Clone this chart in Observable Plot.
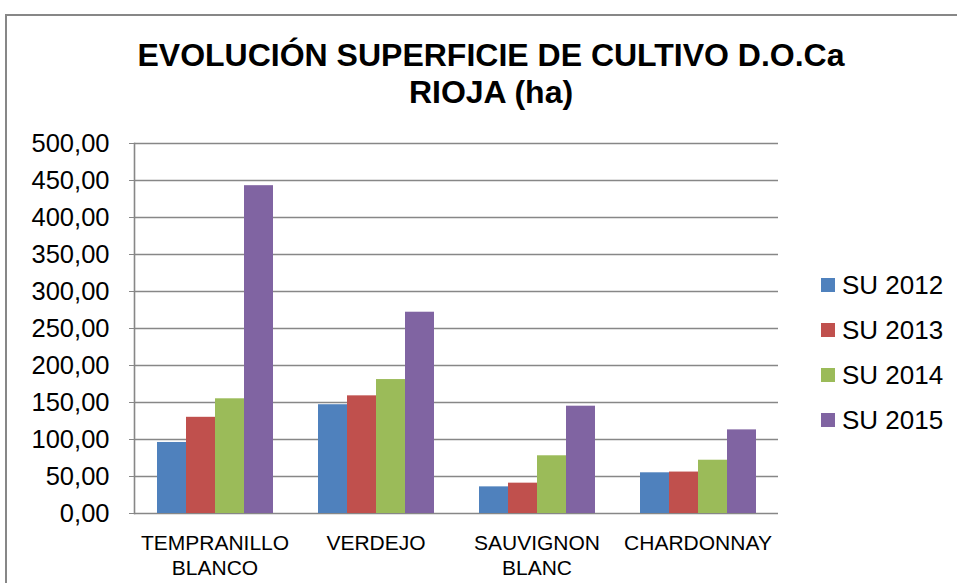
<!DOCTYPE html>
<html>
<head>
<meta charset="utf-8">
<script src="https://cdn.jsdelivr.net/npm/d3@7"></script>
<script src="https://cdn.jsdelivr.net/npm/@observablehq/plot@0.6"></script>
<style>
  body { margin: 0; background: #fff; font-family: "Liberation Sans", Arial, sans-serif; }
  #wrap { position: relative; width: 957px; height: 583px; overflow: hidden; background: #fff; }
  #border { position: absolute; left: 5px; top: 14px; width: 1000px; height: 1000px;
            border-top: 2px solid #878787; border-left: 2px solid #878787; box-sizing: border-box; }
  #chart { position: absolute; left: 0; top: 0; }
  #title { position: absolute; left: 0; top: 37px; width: 982px; text-align: center;
           font-weight: bold; font-size: 32px; line-height: 37px; color: #000; }
  #legend { position: absolute; left: 821px; top: 262px; }
  .row { height: 45px; display: flex; align-items: center; }
  .sw { width: 14px; height: 14px; margin-right: 7px; }
  .lab { font-size: 26px; line-height: 26px; color: #000; white-space: nowrap; }
</style>
</head>
<body>
<div id="wrap">
  <div id="border"></div>
  <div id="chart"></div>
  <div id="title">EVOLUCIÓN SUPERFICIE DE CULTIVO D.O.Ca<br>RIOJA (ha)</div>
  <div id="legend"></div>
</div>
<script>
const categories = ["TEMPRANILLO BLANCO", "VERDEJO", "SAUVIGNON BLANC", "CHARDONNAY"];
const categoryLabels = ["TEMPRANILLO\nBLANCO", "VERDEJO", "SAUVIGNON\nBLANC", "CHARDONNAY"];
const series = ["SU 2012", "SU 2013", "SU 2014", "SU 2015"];
const su2012 = [96, 147, 36, 55];
const su2013 = [130, 159, 41, 56];
const su2014 = [155, 181, 78, 72];
const su2015 = [443, 272, 145, 113];
const colors = ["#4F81BD", "#C0504D", "#9BBB59", "#8064A2"];
const yTicks = [0, 50, 100, 150, 200, 250, 300, 350, 400, 450, 500];

const valuesBySeries = [su2012, su2013, su2014, su2015];
const data = [];
categories.forEach((c, i) => {
  series.forEach((s, j) => data.push({cat: c, series: s, value: valuesBySeries[j][i]}));
});
const labelOf = new Map(categories.map((c, i) => [c, categoryLabels[i]]));
const fmt = d => d.toFixed(2).replace(".", ",");
const gray = "#878787";

const chart = Plot.plot({
  width: 957,
  height: 583,
  marginLeft: 133,
  marginRight: 178,
  marginTop: 143,
  marginBottom: 70,
  style: {fontFamily: '"Liberation Sans", Arial, sans-serif', color: "#000", background: "transparent"},
  fx: {domain: categories, padding: 0, label: null},
  x: {domain: series, paddingInner: 0, paddingOuter: 0.745, axis: null},
  y: {domain: [0, 500], label: null},
  color: {domain: series, range: colors},
  marks: [
    Plot.ruleY(yTicks, {stroke: gray, strokeWidth: 1.6}),
    Plot.barY(data, {fx: "cat", x: "series", y: "value", fill: "series"}),
    Plot.axisY(yTicks, {tickFormat: fmt, tickSize: 5, tickPadding: 20, fontSize: 25.5, stroke: gray, label: null}),
    Plot.axisFx({anchor: "bottom", tickSize: 0, tickPadding: 19, fontSize: 21, lineHeight: 1.19, tickFormat: d => labelOf.get(d), label: null}),
    Plot.frame({anchor: "left", facetAnchor: "left", stroke: gray, strokeWidth: 1.6})
  ]
});
document.getElementById("chart").appendChild(chart);

const legend = d3.select("#legend");
series.forEach((s, i) => {
  const row = legend.append("div").attr("class", "row");
  row.append("div").attr("class", "sw").style("background", colors[i]);
  row.append("div").attr("class", "lab").text(s);
});
</script>
</body>
</html>
